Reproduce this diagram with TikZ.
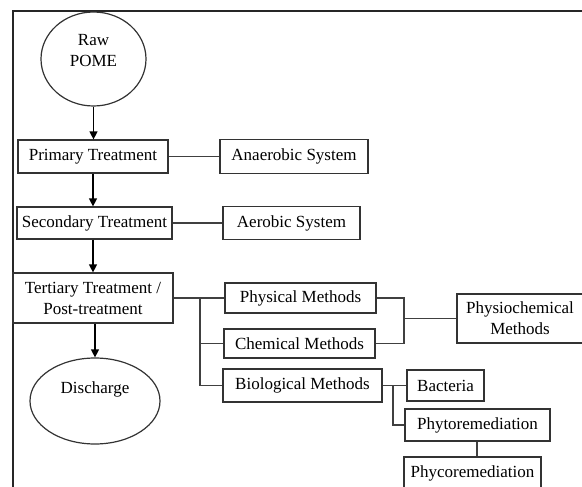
\documentclass[tikz,border=0pt]{standalone}
\usepackage{fontspec}
\setmainfont{Liberation Serif}
\usetikzlibrary{arrows.meta,shapes.geometric}
\begin{document}
\begin{tikzpicture}[x=1pt,y=-1pt,
    box/.style={draw=black!80, line width=1.2pt, inner sep=0pt, align=center, font=\fontsize{17}{21}\selectfont},
    oval/.style={box, ellipse},
    flow/.style={-{Triangle[length=8pt,width=8pt]}, line width=1.3pt},
    link/.style={draw=black!75, line width=1.2pt}]
    \useasboundingbox (0,0) rectangle (582,487);
    \clip (0,0) rectangle (582,487);
    \draw[line width=1.6pt, black!85] (13,490) -- (13,11) -- (585,11);
    % main column
    \node [oval, minimum width=105pt, minimum height=94pt, text depth=17pt] (raw) at (93.5,59) {Raw\\POME};
    \node [box, minimum width=150pt, minimum height=33pt] (primary) at (93,156.5) {Primary Treatment};
    \node [box, minimum width=155pt, minimum height=32pt] (secondary) at (94.5,223) {Secondary Treatment};
    \node [box, minimum width=160pt, minimum height=50pt] (tertiary) at (93,298) {Tertiary Treatment /\\Post-treatment};
    \node [oval, minimum width=130pt, minimum height=86pt, text depth=26pt] (discharge) at (95,401) {Discharge};
    % side boxes
    \node [box, minimum width=148pt, minimum height=34pt] (anaerobic) at (294,156.5) {Anaerobic System};
    \node [box, minimum width=137pt, minimum height=33pt] (aerobic) at (291.5,223) {Aerobic System};
    \node [box, minimum width=151pt, minimum height=30pt] (physical) at (300.5,298) {Physical Methods};
    \node [box, minimum width=151pt, minimum height=29pt] (chemical) at (299.5,343.5) {Chemical Methods};
    \node [box, minimum width=159pt, minimum height=33pt] (biological) at (302.5,385.5) {Biological Methods};
    \node [box, minimum width=126pt, minimum height=49pt] (physio) at (520,318.5) {Physiochemical\\Methods};
    \node [box, minimum width=77pt, minimum height=31pt] (bacteria) at (445.5,385.5) {Bacteria};
    \node [box, minimum width=145pt, minimum height=32pt] (phyto) at (477.5,425) {Phytoremediation};
    \node [box, minimum width=137pt, minimum height=32pt] (phyco) at (472.5,473) {Phycoremediation};
    % junctions
    \coordinate (tj) at (200,298);
    \coordinate (pcj) at (404,318.5);
    \coordinate (bj) at (393,385.5);
    % arrows
    \draw[flow] (raw.south) -- (raw.south |- primary.north);
    \draw[flow] (primary.south) -- (primary.south |- secondary.north);
    \draw[flow] (secondary.south -| primary.south) -- (primary.south |- tertiary.north);
    \draw[flow] (tertiary.south -| discharge.north) -- (discharge.north);
    % links
    \draw[link] (primary.east) -- (anaerobic.west);
    \draw[link] (secondary.east) -- (aerobic.west);
    \draw[link] (tertiary.east) -- (physical.west);
    \draw[link] (tj) |- (chemical.west);
    \draw[link] (tj) |- (biological.west);
    \draw[link] (physical.east) -| (pcj) |- (chemical.east);
    \draw[link] (pcj) -- (physio.west);
    \draw[link] (biological.east) -- (bacteria.west);
    \draw[link] (bj) |- (phyto.west);
    \draw[link] (phyto.south -| 477,0) -- (phyco.north -| 477,0);
\end{tikzpicture}
\end{document}
